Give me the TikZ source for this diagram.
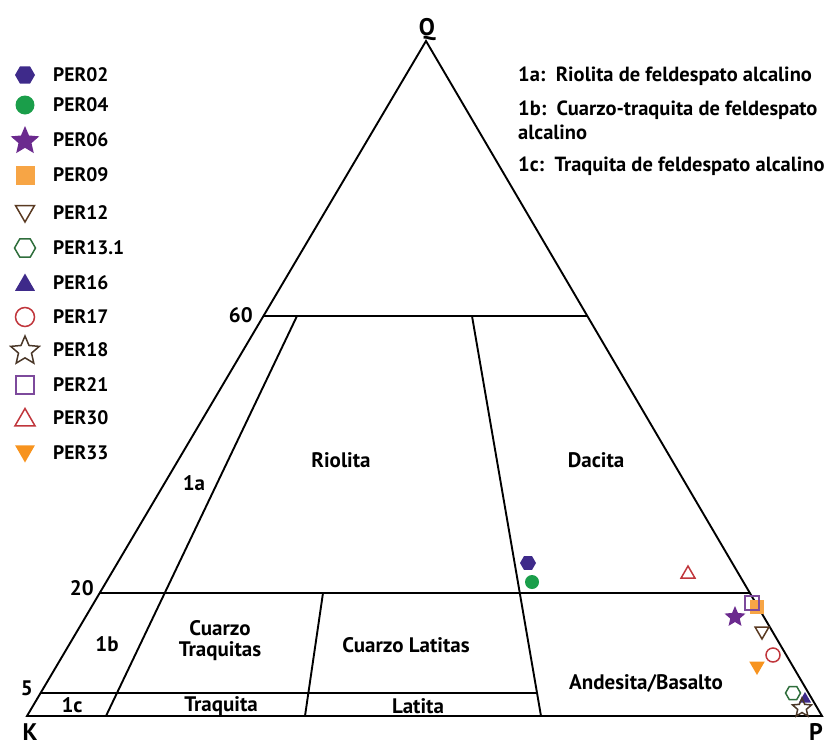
\documentclass[tikz,border=0pt]{standalone}
\usepackage{fontspec}
\setmainfont{PT Sans}
\usetikzlibrary{shapes.geometric}
\definecolor{c02}{HTML}{3E2A8A}
\definecolor{c04}{HTML}{1A9E4A}
\definecolor{c06}{HTML}{6B2A8E}
\definecolor{c09}{HTML}{F7A545}
\definecolor{c12}{HTML}{5A3A22}
\definecolor{c13}{HTML}{2F6E3C}
\definecolor{c16}{HTML}{3E2A8A}
\definecolor{c17}{HTML}{C0363C}
\definecolor{c18}{HTML}{4A3728}
\definecolor{c21}{HTML}{7D4A9C}
\definecolor{c30}{HTML}{C0363C}
\definecolor{c33}{HTML}{F7931E}
\begin{document}
\begin{tikzpicture}[x=1pt,y=-1pt,
  edge/.style={line width=1.9pt, line join=miter},
  lbl/.style={font=\bfseries\fontsize{21}{23}\selectfont, inner sep=0pt},
  vtx/.style={font=\bfseries\fontsize{24}{26}\selectfont, inner sep=0pt},
  leg/.style={font=\bfseries\fontsize{19.5}{21}\selectfont, inner sep=0pt, anchor=west},
  note/.style={font=\bfseries\fontsize{20.5}{22}\selectfont, inner sep=0pt, anchor=base west},
  m02/.style={regular polygon, regular polygon sides=6, fill=c02, minimum size=#1, inner sep=0pt},
  m04/.style={circle, fill=c04, minimum size=#1, inner sep=0pt},
  m06/.style={star, star points=5, star point ratio=2.2, fill=c06, minimum size=#1, inner sep=0pt},
  m09/.style={rectangle, fill=c09, minimum size=#1, inner sep=0pt},
  m12/.style={regular polygon, regular polygon sides=3, shape border rotate=180, draw=c12, line width=1.5pt, minimum size=#1, inner sep=0pt},
  m13/.style={regular polygon, regular polygon sides=6, draw=c13, line width=1.5pt, minimum size=#1, inner sep=0pt},
  m16/.style={regular polygon, regular polygon sides=3, fill=c16, minimum size=#1, inner sep=0pt},
  m17/.style={circle, draw=c17, line width=1.5pt, minimum size=#1, inner sep=0pt},
  m18/.style={star, star points=5, star point ratio=2.2, draw=c18, line width=1.5pt, minimum size=#1, inner sep=0pt},
  m21/.style={rectangle, draw=c21, line width=1.5pt, minimum size=#1, inner sep=0pt},
  m30/.style={regular polygon, regular polygon sides=3, draw=c30, line width=1.5pt, minimum size=#1, inner sep=0pt},
  m33/.style={regular polygon, regular polygon sides=3, shape border rotate=180, fill=c33, minimum size=#1, inner sep=0pt}
]
\useasboundingbox (0,0) rectangle (835,747);
% vertices
\coordinate (K) at (27,716);
\coordinate (P) at (822,716);
\coordinate (Q) at (426,41);
\coordinate (l60) at (263,316);
\coordinate (r60) at (587,316);
\coordinate (l20) at (100,593);
\coordinate (r20) at (750,593);
\coordinate (l5) at (41,693);
\coordinate (r5) at (537,693);
\coordinate (a1) at (297,316);
\coordinate (a2) at (106,716);
\coordinate (b1) at (472,316);
\coordinate (b2) at (541,716);
\coordinate (c1) at (323,593);
\coordinate (c2) at (305,716);
\draw[edge] (K) -- (P) -- (Q) -- cycle;
\draw[edge] (l60) -- (r60);
\draw[edge] (l20) -- (r20);
\draw[edge] (l5) -- (r5);
\draw[edge] (a1) -- (a2);
\draw[edge] (b1) -- (b2);
\draw[edge] (c1) -- (c2);
% vertex labels
\node[vtx, anchor=base] (tQ) at (427,35) {Q};
\node[vtx, anchor=base] (tK) at (30,740) {K};
\node[vtx, anchor=base] (tP) at (816,740) {P};
\node[lbl, anchor=east] (t60) at (253,315) {60};
\node[lbl, anchor=east] (t20) at (94,588) {20};
\node[lbl, anchor=east] (t5) at (33,688) {5};
% field labels
\node[lbl] (f1a) at (194,483) {1a};
\node[lbl] (f1b) at (107,644) {1b};
\node[lbl] (f1c) at (72,705) {1c};
\node[lbl] (fRio) at (341,460) {Riolita};
\node[lbl] (fDac) at (596,460) {Dacita};
\node[lbl, align=center] (fCT) at (220,641) {Cuarzo\\[-2pt]Traquitas};
\node[lbl] (fCL) at (406,645) {Cuarzo Latitas};
\node[lbl] (fTr) at (221,706) {Traquita};
\node[lbl] (fLa) at (418,706) {Latita};
\node[lbl] (fAB) at (646,683) {Andesita/Basalto};
% notes
\node[note] (n1) at (518,81) {1a:\ \ Riolita de feldespato alcalino};
\node[note] (n2) at (518,115) {1b:\ \ Cuarzo-traquita de feldespato};
\node[note] (n3) at (518,139) {alcalino};
\node[note] (n4) at (518,171) {1c:\ \ Traquita de feldespato alcalino};
% legend
\node[m02=20pt] (k02) at (25,75) {};  \node[leg] (g02) at (53,75) {PER02};
\node[m04=19pt] (k04) at (25,105) {}; \node[leg] (g04) at (53,105) {PER04};
\node[m06=30pt] (k06) at (25,141) {}; \node[leg] (g06) at (53,140) {PER06};
\node[m09=19pt] (k09) at (25,175) {}; \node[leg] (g09) at (53,175) {PER09};
\node[m12=22pt] (k12) at (25,211) {}; \node[leg] (g12) at (53,213) {PER12};
\node[m13=21pt] (k13) at (25,248) {}; \node[leg] (g13) at (53,248) {PER13.1};
\node[m16=23pt] (k16) at (25,285) {}; \node[leg] (g16) at (53,283) {PER16};
\node[m17=19pt] (k17) at (25,317) {}; \node[leg] (g17) at (53,317) {PER17};
\node[m18=30pt] (k18) at (25,351) {}; \node[leg] (g18) at (53,350) {PER18};
\node[m21=18pt] (k21) at (25,385) {}; \node[leg] (g21) at (53,385) {PER21};
\node[m30=23pt] (k30) at (25,420) {}; \node[leg] (g30) at (53,418) {PER30};
\node[m33=23pt] (k33) at (25,451) {}; \node[leg] (g33) at (53,453) {PER33};
% data points
\node[m09=14pt] (d09) at (757,607) {};
\node[m21=14pt] (d21) at (752,603) {};
\node[m02=16pt] (d02) at (528,563) {};
\node[m04=14pt] (d04) at (532,582) {};
\node[m30=16pt] (d30) at (688,574) {};
\node[m06=22pt] (d06) at (735,617) {};
\node[m12=16pt] (d12) at (762,631) {};
\node[m17=14pt] (d17) at (773,655) {};
\node[m33=18pt] (d33) at (757,666) {};
\node[m13=15pt] (d13) at (793,693) {};
\node[m16=14pt] (d16) at (805,699) {};
\node[m18=20pt] (d18) at (802,708) {};
\end{tikzpicture}
\end{document}
